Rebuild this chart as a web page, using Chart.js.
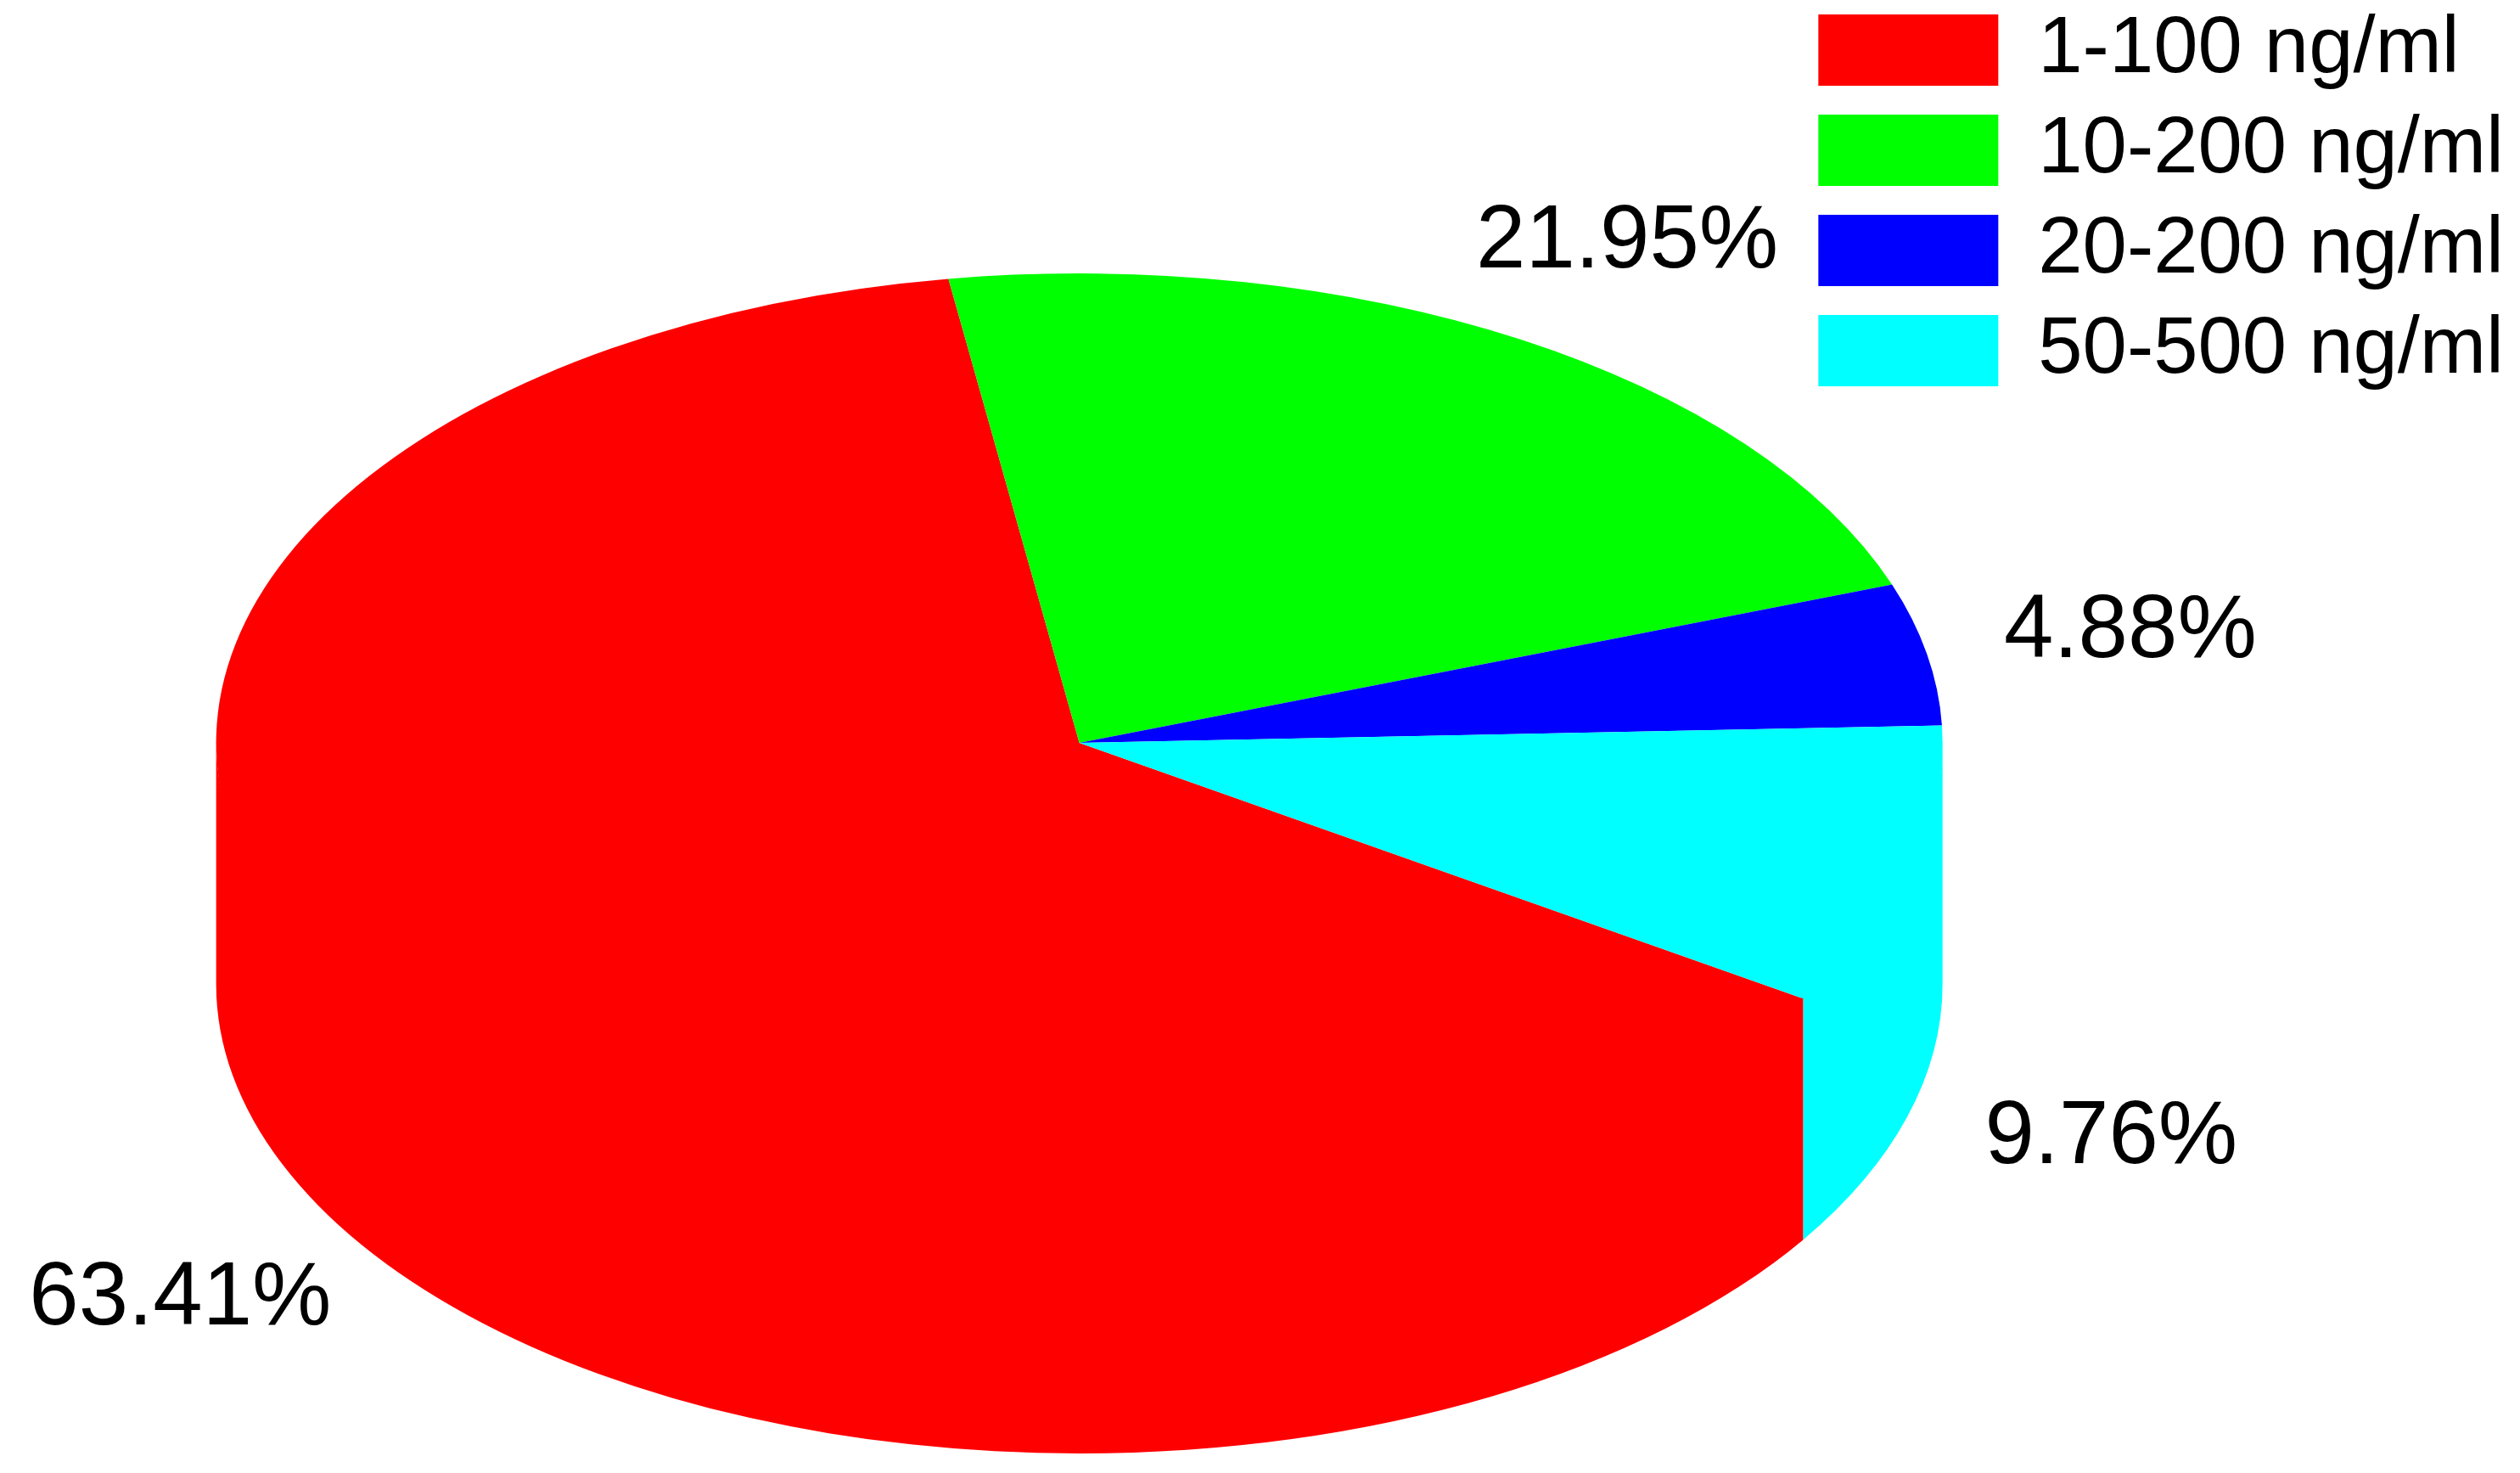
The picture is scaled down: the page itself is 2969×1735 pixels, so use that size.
<!DOCTYPE html>
<html lang="en">
  <head>
    <meta charset="UTF-8" />
    <title>Concentration ranges</title>
    <script src="https://cdn.jsdelivr.net/npm/chart.js"></script>
    <style>
      html, body { margin: 0; padding: 0; background: #fff; }
      #wrap { width: 2969px; height: 1735px; }
    </style>
  </head>
  <body>
    <div id="wrap"><canvas id="myChart"></canvas></div>
    <script>
const ranges = ["1-100 ng/ml", "10-200 ng/ml", "20-200 ng/ml", "50-500 ng/ml"];
const shares = [63.41, 21.95, 4.88, 9.76];
const colors = ["#ff0000", "#00ff00", "#0000ff", "#00ffff"];

Chart.defaults.font.family = 'Arial, "Liberation Sans", sans-serif';
Chart.defaults.color = "#000";

// fake 3D: squash the pie vertically and paint the front side walls
const pie3d = {
  id: "pie3d",
  beforeDatasetsDraw(chart, args, opts) {
    const ctx = chart.ctx;
    const arcs = chart.getDatasetMeta(0).data;
    const { x, y, outerRadius: r } = arcs[0];
    const ry = r * opts.tilt;
    arcs.forEach(arc => {
      // only the lower half (0..PI) of the rim faces the viewer
      for (let k = -1; k <= 2; k++) {
        const lo = Math.max(arc.startAngle, 2 * Math.PI * k);
        const hi = Math.min(arc.endAngle, 2 * Math.PI * k + Math.PI);
        if (hi <= lo) continue;
        ctx.beginPath();
        // start the wall a little under the top face so no seam shows
        ctx.ellipse(x, y - 3, r, ry, 0, lo, hi);
        ctx.ellipse(x, y + opts.depth, r, ry, 0, hi, lo, true);
        ctx.closePath();
        ctx.fillStyle = arc.options.backgroundColor;
        ctx.fill();
      }
    });
    ctx.save();
    ctx.translate(x, y);
    ctx.scale(1, opts.tilt);
    ctx.translate(-x, -y);
  },
  afterDatasetsDraw(chart, args, opts) {
    const ctx = chart.ctx;
    ctx.restore();
    const arcs = chart.getDatasetMeta(0).data;
    ctx.save();
    ctx.font = opts.labelSize + 'px Arial, "Liberation Sans", sans-serif';
    ctx.fillStyle = "#000";
    ctx.textAlign = "center";
    ctx.textBaseline = "middle";
    arcs.forEach((arc, i) => {
      const mid = (arc.startAngle + arc.endAngle) / 2;
      const s = Math.sin(mid);
      const lx = arc.x + opts.labelDist * arc.outerRadius * Math.cos(mid);
      const ly = arc.y + opts.labelDist * arc.outerRadius * opts.tilt * s + (s > 0 ? opts.depth : 0);
      ctx.fillText(shares[i].toFixed(2) + "%", lx, ly);
    });
    ctx.restore();
  }
};

new Chart(document.getElementById("myChart"), {
  type: "pie",
  data: {
    labels: ranges,
    datasets: [{
      data: shares,
      backgroundColor: colors,
      borderWidth: 0,
      radius: 1017
    }]
  },
  options: {
    responsive: true,
    maintainAspectRatio: false,
    animation: false,
    rotation: 123,
    layout: { padding: { left: 425, right: 9, top: -12, bottom: 0 } },
    plugins: {
      tooltip: { enabled: false },
      // empty title only used as a spacer above the pie
      title: { display: true, text: "", padding: 0, font: { size: 27, lineHeight: 1 } },
      legend: {
        position: "right",
        align: "start",
        labels: {
          boxWidth: 212,
          boxHeight: 84,
          padding: 24,
          color: "#000",
          font: { size: 94 }
        }
      },
      pie3d: { tilt: 0.5437, depth: 284, labelDist: 1.24, labelSize: 105 }
    }
  },
  plugins: [pie3d]
});
    </script>
  </body>
</html>
